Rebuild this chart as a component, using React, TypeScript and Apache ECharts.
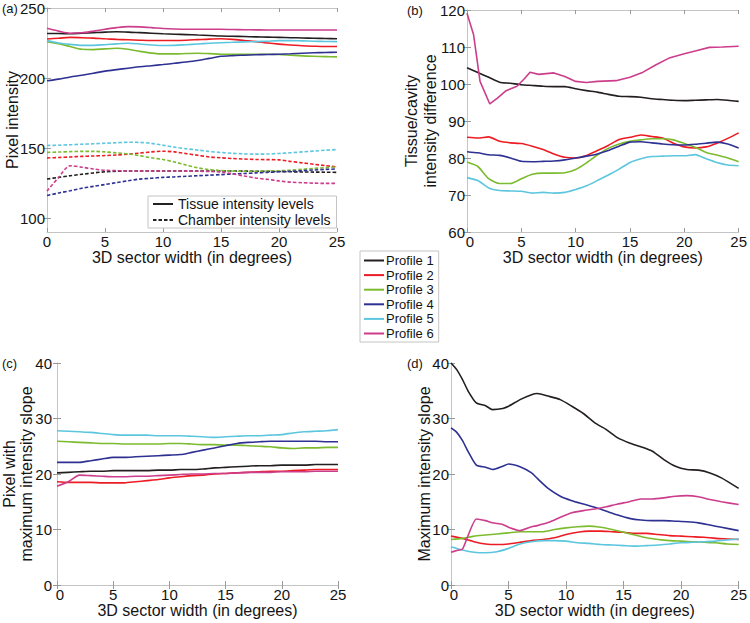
import React, { useEffect, useRef } from "react";
import * as echarts from "echarts";

// ---------- data ----------
const DEGREES = [0, 1, 2, 3, 4, 5, 6, 7, 8, 9, 10, 11, 12, 13, 14, 15, 16, 17, 18, 19, 20, 21, 22, 23, 24, 25];
const PROFILES = ["Profile 1", "Profile 2", "Profile 3", "Profile 4", "Profile 5", "Profile 6"];
const COLORS = ["#231f20", "#ec1c24", "#7cbb2f", "#2e3192", "#5cc6de", "#cc3d8c"];
const X_TITLE = "3D sector width (in degrees)";

// (a) tissue (solid) and chamber (dashed) intensity levels, profiles 1..6
const aTissue1 = [231.8, 231.8, 231.6, 232.0, 232.4, 232.8, 233.0, 232.8, 232.4, 232.0, 231.6, 231.3, 231.0, 230.7, 230.4, 230.0, 229.8, 229.6, 229.4, 229.2, 229.0, 228.8, 228.6, 228.4, 228.2, 228.0];
const aTissue2 = [227.9, 228.4, 229.0, 228.8, 228.5, 228.0, 227.6, 227.3, 227.0, 226.8, 226.8, 226.8, 227.0, 227.4, 227.8, 228.0, 227.6, 226.8, 226.0, 225.0, 224.2, 223.6, 223.0, 222.7, 222.5, 222.5];
const aTissue3 = [226.0, 224.5, 222.5, 220.5, 220.3, 220.8, 221.2, 220.5, 219.0, 217.8, 217.2, 217.2, 217.5, 217.7, 217.4, 217.0, 216.9, 216.9, 217.0, 217.0, 216.8, 216.3, 215.8, 215.5, 215.3, 215.1];
const aTissue4 = [198.0, 199.2, 200.7, 202.0, 203.4, 204.9, 206.0, 207.0, 208.0, 208.8, 209.6, 210.5, 211.4, 212.5, 214.0, 215.5, 216.0, 216.3, 216.6, 216.8, 217.0, 217.3, 217.7, 218.0, 218.2, 218.4];
const aTissue5 = [226.7, 225.0, 224.0, 223.3, 223.3, 223.8, 224.4, 224.8, 224.3, 223.6, 223.2, 223.3, 223.8, 224.3, 224.8, 225.2, 225.5, 225.8, 226.0, 226.3, 226.7, 226.7, 226.5, 226.3, 226.1, 226.0];
const aTissue6 = [235.5, 233.5, 232.0, 232.3, 233.5, 234.8, 236.0, 236.7, 236.5, 236.0, 235.4, 235.0, 234.8, 234.8, 234.8, 234.8, 234.6, 234.5, 234.4, 234.3, 234.3, 234.3, 234.3, 234.3, 234.3, 234.3];

const aChamber1 = [127.8, 129.0, 130.2, 131.2, 132.2, 133.0, 133.4, 133.6, 133.6, 133.6, 133.6, 133.6, 133.6, 133.6, 133.6, 133.6, 133.6, 133.5, 133.4, 133.3, 133.2, 133.0, 132.9, 132.8, 132.7, 132.6];
const aChamber2 = [142.9, 143.2, 143.6, 144.0, 144.3, 144.6, 145.0, 145.6, 146.4, 147.2, 147.7, 147.2, 146.0, 144.8, 143.6, 143.0, 142.5, 142.1, 141.8, 141.7, 141.5, 140.4, 139.4, 138.4, 137.4, 136.5];
const aChamber3 = [146.9, 147.1, 147.4, 147.6, 147.6, 147.2, 146.5, 145.8, 144.5, 143.0, 141.8, 140.0, 137.8, 135.8, 134.6, 133.9, 133.5, 133.4, 133.4, 133.6, 133.8, 134.2, 134.8, 135.4, 136.0, 136.5];
const aChamber4 = [116.1, 117.8, 119.5, 121.2, 122.6, 123.9, 125.3, 126.6, 127.8, 128.4, 129.0, 129.4, 129.8, 130.2, 130.6, 131.0, 131.4, 131.8, 132.2, 132.6, 133.0, 133.4, 133.8, 134.3, 134.7, 135.0];
const aChamber5 = [151.8, 152.0, 152.3, 152.7, 153.0, 153.4, 153.8, 154.1, 154.0, 153.3, 152.0, 150.6, 149.5, 148.5, 147.5, 146.8, 146.2, 145.8, 145.6, 145.7, 146.1, 146.6, 147.2, 147.8, 148.4, 148.9];
const aChamber6 = [119.2, 129.0, 137.3, 136.3, 135.0, 134.1, 133.8, 133.6, 133.6, 133.6, 133.6, 133.6, 133.5, 133.4, 133.2, 132.9, 131.5, 130.0, 128.6, 127.6, 126.5, 125.6, 125.2, 124.9, 124.7, 124.7];

// (b) tissue/cavity intensity difference
const bDiff1 = [104.4, 103.1, 101.8, 100.5, 100.2, 99.8, 99.6, 99.4, 99.3, 99.3, 98.7, 98.2, 97.8, 97.2, 96.7, 96.6, 96.4, 96.0, 95.8, 95.6, 95.5, 95.6, 95.7, 95.8, 95.6, 95.3];
const bDiff2 = [85.6, 85.4, 85.7, 84.5, 84.1, 83.9, 83.2, 82.3, 81.1, 80.2, 80.0, 80.7, 82.0, 83.4, 85.0, 85.6, 86.2, 85.8, 85.4, 84.0, 83.0, 82.7, 83.0, 84.0, 85.3, 86.8];
const bDiff3 = [78.9, 77.7, 74.4, 73.1, 73.1, 74.4, 75.6, 75.9, 75.9, 76.0, 76.9, 78.7, 80.8, 82.6, 83.8, 84.5, 84.9, 85.2, 85.2, 84.9, 83.9, 82.9, 81.5, 80.8, 80.0, 79.0];
const bDiff4 = [81.7, 81.4, 80.9, 80.7, 80.0, 79.1, 79.0, 79.1, 79.2, 79.5, 80.0, 80.5, 81.1, 82.0, 83.2, 84.3, 84.4, 84.1, 83.8, 83.6, 83.5, 83.7, 84.0, 84.3, 83.8, 82.7];
const bDiff5 = [74.7, 73.9, 71.9, 71.2, 71.1, 71.0, 70.5, 70.7, 70.5, 70.7, 71.5, 72.5, 73.9, 75.4, 77.0, 78.8, 79.8, 80.4, 80.5, 80.6, 80.6, 80.9, 79.8, 78.8, 78.1, 77.9];
const bDiff6X = [0, 0.6, 1.2, 2.1, 2.8, 3.6, 4.6, 5.3, 5.8, 6.6, 8, 9, 10, 11, 12, 13.7, 15, 16.2, 17.4, 18.6, 20, 21.1, 22.3, 23.5, 25];
const bDiff6 = [119.1, 113.4, 100.7, 94.6, 96.2, 98.2, 99.4, 101.5, 103.2, 102.6, 103.0, 102.0, 100.7, 100.4, 100.7, 100.9, 101.8, 103.2, 105.2, 107.0, 108.2, 109.0, 109.9, 110.0, 110.2];

// (c) pixel with maximum intensity slope
const cPixel1 = [20.2, 20.3, 20.4, 20.5, 20.5, 20.6, 20.6, 20.6, 20.6, 20.7, 20.7, 20.8, 20.8, 20.9, 21.1, 21.2, 21.3, 21.4, 21.5, 21.5, 21.6, 21.6, 21.6, 21.7, 21.7, 21.7];
const cPixel2 = [18.6, 18.5, 18.5, 18.5, 18.4, 18.4, 18.4, 18.6, 18.8, 19.0, 19.3, 19.5, 19.7, 19.8, 20.0, 20.1, 20.2, 20.3, 20.4, 20.5, 20.5, 20.6, 20.7, 20.8, 20.8, 20.8];
const cPixel3 = [25.9, 25.8, 25.7, 25.6, 25.5, 25.5, 25.4, 25.4, 25.4, 25.4, 25.5, 25.5, 25.4, 25.3, 25.3, 25.2, 25.2, 25.1, 25.0, 24.9, 24.7, 24.6, 24.7, 24.7, 24.8, 24.8];
const cPixel4 = [22.1, 22.1, 22.1, 22.4, 22.7, 23.0, 23.0, 23.1, 23.2, 23.3, 23.4, 23.5, 23.9, 24.3, 24.7, 25.1, 25.5, 25.7, 25.8, 25.9, 25.9, 25.9, 25.9, 25.9, 25.8, 25.8];
const cPixel5 = [27.8, 27.7, 27.6, 27.5, 27.3, 27.1, 27.0, 27.0, 27.0, 26.9, 26.9, 26.9, 26.8, 26.7, 26.6, 26.7, 26.8, 26.9, 26.9, 27.0, 27.1, 27.4, 27.6, 27.7, 27.8, 28.0];
const cPixel6 = [17.8, 18.6, 19.8, 19.7, 19.6, 19.5, 19.5, 19.6, 19.6, 19.7, 19.8, 19.9, 20.0, 20.0, 20.1, 20.1, 20.2, 20.3, 20.3, 20.3, 20.4, 20.4, 20.4, 20.5, 20.5, 20.5];

// (d) maximum intensity slope
const dHalfX = [0, 0.5, 1, 1.5, 2.2, 3, 3.6, 4.5, 5, 6, 7, 7.5, 8.5, 9.5, 10.5, 11.5, 12.5, 13.5, 14.5, 15.5, 16.5, 17.5, 18.5, 19.5, 20.5, 21.5, 22.5, 23.5, 25];
const dSlope1 = [40.0, 38.8, 37.0, 34.9, 32.8, 32.3, 31.6, 31.8, 32.2, 33.4, 34.3, 34.5, 34.0, 33.4, 32.2, 30.9, 29.2, 28.0, 26.5, 25.6, 24.9, 24.1, 22.6, 21.4, 20.8, 20.7, 20.2, 19.3, 17.4];
const dSlope4 = [28.3, 27.5, 26.0, 24.0, 21.6, 21.2, 20.8, 21.4, 21.8, 21.3, 20.2, 19.2, 17.3, 16.0, 15.2, 14.6, 14.0, 13.3, 12.6, 12.0, 11.7, 11.6, 11.6, 11.5, 11.4, 11.2, 10.8, 10.4, 9.8];
const dSlope6 = [5.9, 6.2, 6.5, 9.0, 11.9, 11.6, 11.2, 10.9, 10.4, 9.8, 10.5, 10.7, 11.3, 12.2, 13.0, 13.4, 13.7, 14.1, 14.6, 15.0, 15.5, 15.5, 15.7, 16.0, 16.1, 15.9, 15.4, 15.0, 14.5];
const dSlope2 = [8.8, 8.4, 7.8, 7.4, 7.3, 7.4, 7.7, 8.0, 8.2, 8.5, 9.1, 9.5, 9.7, 9.7, 9.6, 9.5, 9.3, 9.3, 9.1, 8.9, 8.8, 8.7, 8.6, 8.4, 8.3, 8.2];
const dSlope3 = [8.2, 8.4, 8.8, 9.0, 9.2, 9.4, 9.6, 9.6, 9.6, 10.0, 10.3, 10.5, 10.6, 10.4, 10.0, 9.5, 9.0, 8.5, 8.2, 8.0, 7.9, 7.8, 7.7, 7.6, 7.4, 7.3];
const dSlope5 = [6.9, 6.3, 5.9, 5.8, 6.0, 6.6, 7.4, 7.8, 8.0, 8.0, 7.9, 7.6, 7.5, 7.3, 7.2, 7.1, 7.0, 7.1, 7.2, 7.4, 7.6, 7.7, 7.8, 7.9, 8.1, 8.3];

// ---------- helpers ----------
const FONT = "'Liberation Sans', Arial, Helvetica, sans-serif";
const TEXT = "#141414";
const BOX = "#c4c4c4";
const TICK_FS = 15;
const NAME_FS = 16;

const zip = (xs: number[], ys: number[]) => xs.map((x, i) => [x, ys[i]]);

function line(name: string, color: string, data: number[][], axis: number, dashed = false, smooth: number | boolean = 0.3) {
  return {
    type: "line",
    name,
    xAxisIndex: axis * 2,
    yAxisIndex: axis * 2,
    data,
    symbol: "none",
    showSymbol: false,
    smooth,
    color,
    lineStyle: { color, width: 1.6, type: dashed ? [3.5, 2] : "solid" },
    z: 3,
  };
}

type Grid = { left: number; top: number; width: number; height: number };
const GRIDS: Grid[] = [
  { left: 47, top: 8, width: 290, height: 224 },
  { left: 467, top: 10, width: 274, height: 222 },
  { left: 56, top: 363, width: 282, height: 222 },
  { left: 451, top: 363, width: 291, height: 222 },
];

function xAxes(gi: number, shiftZero: boolean) {
  const common = {
    type: "value",
    gridIndex: gi,
    min: 0,
    max: 25,
    interval: 5,
    splitLine: { show: false },
    axisLine: { show: true, lineStyle: { color: BOX, width: 1 } },
    axisTick: { show: true, inside: true, length: 4, lineStyle: { color: "#9a9a9a" } },
  };
  return [
    {
      ...common,
      position: "bottom",
      name: X_TITLE,
      nameLocation: "middle",
      nameGap: 17,
      nameMoveOverlap: false,
      nameTextStyle: { fontSize: NAME_FS, color: TEXT, fontFamily: FONT, verticalAlign: "top" },
      axisLabel: {
        fontSize: TICK_FS,
        color: TEXT,
        fontFamily: FONT,
        margin: 2,
        formatter: (v: number) => (shiftZero && v === 0 ? "{z|0}" : String(v)),
        rich: { z: { fontSize: TICK_FS, color: TEXT, fontFamily: FONT, padding: [0, 0, 0, 6] } },
      },
    },
    { ...common, position: "top", axisLabel: { show: false } },
  ];
}

function yAxes(gi: number, min: number, max: number, opts: any) {
  const ticks = opts.custom;
  const common: any = {
    type: "value",
    gridIndex: gi,
    min,
    max,
    splitLine: { show: false },
    axisLine: { show: true, lineStyle: { color: BOX, width: 1 } },
  };
  if (!ticks) common.interval = opts.interval;
  const tick = { show: true, inside: true, length: 4, lineStyle: { color: "#9a9a9a" }, ...(ticks ? { customValues: ticks } : {}) };
  return [
    {
      ...common,
      position: "left",
      name: opts.name,
      nameLocation: "middle",
      nameGap: opts.nameGap,
      nameMoveOverlap: false,
      nameTextStyle: { fontSize: NAME_FS, color: TEXT, fontFamily: FONT, lineHeight: opts.lineHeight },
      axisTick: tick,
      axisLabel: { fontSize: TICK_FS, color: TEXT, fontFamily: FONT, margin: opts.margin, ...(ticks ? { customValues: ticks } : {}) },
    },
    { ...common, position: "right", axisTick: tick, axisLabel: { show: false } },
  ];
}

export default function App() {
  const ref = useRef<HTMLDivElement>(null);

  useEffect(() => {
    if (!ref.current) return;
    const chart = echarts.init(ref.current, undefined, { renderer: "svg" });

    const tissue = [aTissue1, aTissue2, aTissue3, aTissue4, aTissue5, aTissue6];
    const chamber = [aChamber1, aChamber2, aChamber3, aChamber4, aChamber5, aChamber6];
    const diff = [bDiff1, bDiff2, bDiff3, bDiff4, bDiff5];
    const pixel = [cPixel1, cPixel2, cPixel3, cPixel4, cPixel5, cPixel6];

    const series: any[] = [];
    PROFILES.forEach((p, i) => series.push(line(p, COLORS[i], zip(DEGREES, tissue[i]), 0)));
    PROFILES.forEach((p, i) => series.push(line(p + " (chamber)", COLORS[i], zip(DEGREES, chamber[i]), 0, true)));
    diff.forEach((d, i) => series.push(line(PROFILES[i], COLORS[i], zip(DEGREES, d), 1, false, 0.2)));
    series.push(line(PROFILES[5], COLORS[5], zip(bDiff6X, bDiff6), 1, false, false));
    pixel.forEach((d, i) => series.push(line(PROFILES[i], COLORS[i], zip(DEGREES, d), 2, false, 0.2)));
    series.push(line(PROFILES[0], COLORS[0], zip(dHalfX, dSlope1), 3, false, 0.2));
    series.push(line(PROFILES[1], COLORS[1], zip(DEGREES, dSlope2), 3, false, 0.2));
    series.push(line(PROFILES[2], COLORS[2], zip(DEGREES, dSlope3), 3, false, 0.2));
    series.push(line(PROFILES[3], COLORS[3], zip(dHalfX, dSlope4), 3, false, 0.2));
    series.push(line(PROFILES[4], COLORS[4], zip(DEGREES, dSlope5), 3, false, 0.2));
    series.push(line(PROFILES[5], COLORS[5], zip(dHalfX, dSlope6), 3, false, 0.2));
    series.push({ ...line("Tissue intensity levels", "#222", [], 0), z: 1 });
    series.push({ ...line("Chamber intensity levels", "#222", [], 0, true), z: 1 });

    const panelLabel = (t: string, x: number, y: number) => ({
      type: "text",
      left: x,
      top: y,
      style: { text: t, fontSize: 13, fill: TEXT, fontFamily: FONT },
    });

    const legendCommon = {
      orient: "vertical",
      itemWidth: 20,
      itemHeight: 14,
      borderColor: BOX,
      borderWidth: 1,
      backgroundColor: "#fff",
      selectedMode: false,
      itemStyle: { opacity: 0, borderWidth: 0 },
    };

    chart.setOption({
      animation: false,
      backgroundColor: "#fff",
      grid: GRIDS.map((g) => ({ ...g, containLabel: false })),
      xAxis: [...xAxes(0, false), ...xAxes(1, true), ...xAxes(2, true), ...xAxes(3, true)],
      yAxis: [
        ...yAxes(0, 90, 250, { custom: [100, 150, 200, 250], name: "Pixel intensity", nameGap: 27, margin: 2, lineHeight: 16 }),
        ...yAxes(1, 60, 120, { interval: 10, name: "Tissue/cavity\nintensity difference", nameGap: 27, margin: 2, lineHeight: 19 }),
        ...yAxes(2, 0, 40, { interval: 10, name: "Pixel with\nmaximum intensity slope", nameGap: 22, margin: 5, lineHeight: 17 }),
        ...yAxes(3, 0, 40, { interval: 10, name: "Maximum intensity slope", nameGap: 19, margin: 2, lineHeight: 16 }),
      ],
      legend: [
        {
          ...legendCommon,
          data: PROFILES,
          left: 360,
          top: 251,
          itemGap: 1.6,
          padding: [3, 5, 2, 3],
          textStyle: { fontSize: 13, color: TEXT, fontFamily: FONT, padding: [0, 0, 0, -3] },
        },
        {
          ...legendCommon,
          data: ["Tissue intensity levels", "Chamber intensity levels"],
          left: 148,
          top: 196,
          itemGap: 2,
          padding: [1, 6, 1, 4],
          textStyle: { fontSize: 14, color: TEXT, fontFamily: FONT },
        },
      ],
      graphic: [
        panelLabel("(a)", 2, 2),
        panelLabel("(b)", 407, 4),
        panelLabel("(c)", 2, 357),
        panelLabel("(d)", 407, 357),
      ],
      series,
    });

    return () => chart.dispose();
  }, []);

  return <div ref={ref} style={{ position: "absolute", left: 0, top: 0, width: 750, height: 623 }} />;
}
